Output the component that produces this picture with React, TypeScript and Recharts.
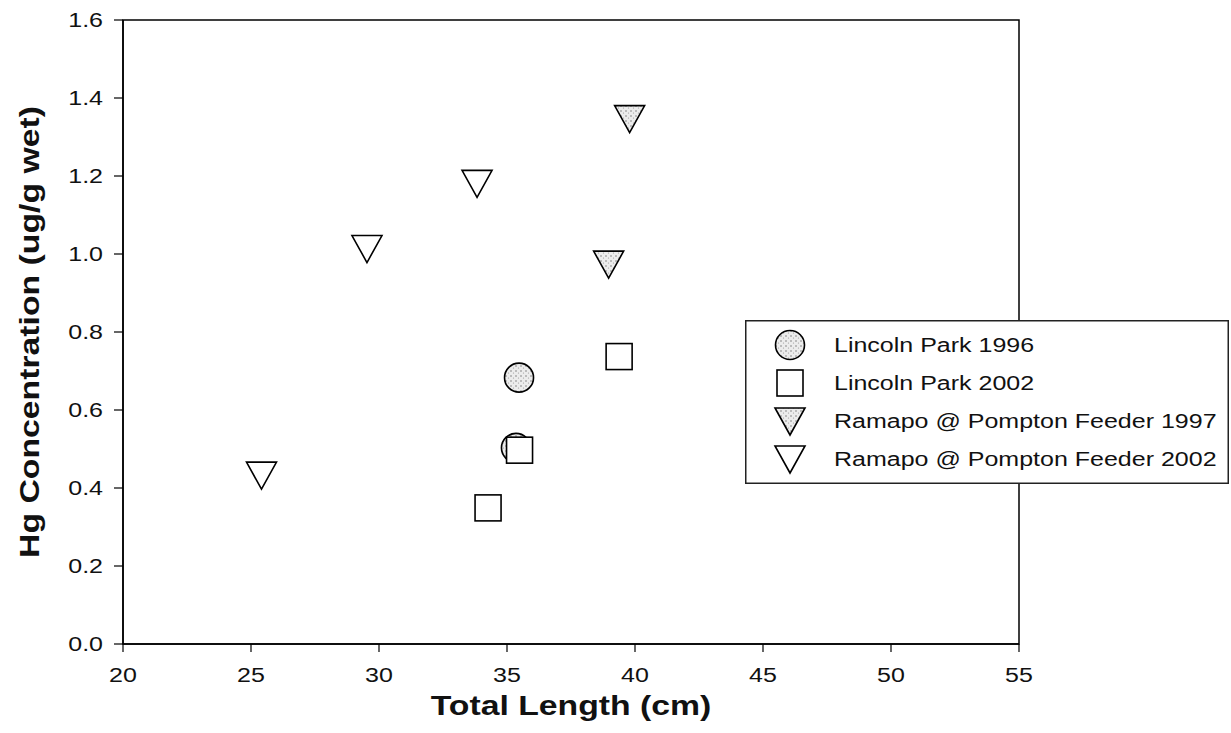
import React from 'react';
import { ScatterChart, Scatter, XAxis, YAxis, ReferenceArea, Legend } from 'recharts';

// Hg concentration vs. total length, by site and sampling year
const lincolnPark1996 = [
  { x: 35.47, y: 0.683 },
  { x: 35.35, y: 0.503 },
];
const lincolnPark2002 = [
  { x: 39.38, y: 0.737 },
  { x: 35.49, y: 0.497 },
  { x: 34.26, y: 0.349 },
];
const ramapo1997 = [
  { x: 39.79, y: 1.347 },
  { x: 38.97, y: 0.974 },
];
const ramapo2002 = [
  { x: 33.83, y: 1.181 },
  { x: 29.53, y: 1.014 },
  { x: 25.41, y: 0.433 },
];

const seriesNames = [
  'Lincoln Park 1996',
  'Lincoln Park 2002',
  'Ramapo @ Pompton Feeder 1997',
  'Ramapo @ Pompton Feeder 2002',
];

const xTicks = [20, 25, 30, 35, 40, 45, 50, 55];
const yTicks = [0, 0.2, 0.4, 0.6, 0.8, 1.0, 1.2, 1.4, 1.6];

const FONT_NAME = 'Liberation Sans';
const FONT = `"${FONT_NAME}", Arial, Helvetica, sans-serif`;
const INK = '#111';
const WIDE = 1.25; // horizontal text widening used throughout the figure

let measureCtx: CanvasRenderingContext2D | null = null;
function textWidth(text: string, size: number, weight = 'normal'): number {
  if (!measureCtx) measureCtx = document.createElement('canvas').getContext('2d');
  if (!measureCtx) return text.length * size * 0.55;
  measureCtx.font = `${weight} ${size}px "${FONT_NAME}", Arial, sans-serif`;
  return measureCtx.measureText(text).width;
}

type WideTextProps = {
  x: number;
  y: number;
  text: string;
  size: number;
  weight?: string;
  anchor?: 'start' | 'middle' | 'end';
  dy?: string;
  transform?: string;
};

const WideText = ({ x, y, text, size, weight = 'normal', anchor = 'start', dy, transform }: WideTextProps) => (
  <text
    x={x}
    y={y}
    dy={dy}
    transform={transform}
    textAnchor={anchor}
    fontFamily={FONT}
    fontSize={size}
    fontWeight={weight}
    fill={INK}
    textLength={textWidth(text, size, weight) * WIDE}
    lengthAdjust="spacingAndGlyphs"
  >
    {text}
  </text>
);

const XTick = (props: any) => (
  <WideText x={props.x} y={props.y} dy="0.71em" text={String(props.payload.value)} size={20} anchor="middle" />
);

const YTick = (props: any) => (
  <WideText
    x={props.x}
    y={props.y}
    dy="0.355em"
    text={Number(props.payload.value).toFixed(1)}
    size={20}
    anchor="end"
  />
);

type Pt = { cx?: number; cy?: number };

const StippleCircle = ({ cx = 0, cy = 0 }: Pt) => (
  <circle cx={cx} cy={cy} r={14.5} fill="url(#stipple)" stroke="#000" strokeWidth={1.6} />
);

const OpenSquare = ({ cx = 0, cy = 0 }: Pt) => (
  <rect x={cx - 13} y={cy - 13} width={26} height={26} fill="#fff" stroke="#000" strokeWidth={1.6} />
);

const downTriangle = (fill: string) => ({ cx = 0, cy = 0 }: Pt) => (
  <path
    d={`M${cx - 15},${cy - 13} L${cx + 15},${cy - 13} L${cx},${cy + 14} Z`}
    fill={fill}
    stroke="#000"
    strokeWidth={1.6}
  />
);

const StippleTriangle = downTriangle('url(#stipple)');
const OpenTriangle = downTriangle('#fff');

const legendShapes = [StippleCircle, OpenSquare, StippleTriangle, OpenTriangle];

const LEGEND_W = 484;
const LEGEND_H = 164;
const ROW_H = 38;
const FIRST_ROW = 25;

const LegendBox = () => (
  <svg width={LEGEND_W} height={LEGEND_H} style={{ display: 'block' }}>
    <rect x={0.75} y={0.75} width={LEGEND_W - 1.5} height={LEGEND_H - 1.5} fill="#fff" stroke="#222" strokeWidth={1.5} />
    {seriesNames.map((name, i) => {
      const Shape = legendShapes[i];
      const cy = FIRST_ROW + i * ROW_H;
      return (
        <g key={name}>
          <Shape cx={45} cy={cy} />
          <WideText x={89} y={cy} dy="0.355em" text={name} size={20} />
        </g>
      );
    })}
  </svg>
);

export default function App() {
  return (
    <div style={{ position: 'absolute', left: 0, top: 0, width: 1231, height: 733, background: '#fff' }}>
      <svg width={0} height={0} style={{ position: 'absolute' }}>
        <defs>
          <pattern id="stipple" patternUnits="userSpaceOnUse" width={5} height={5}>
            <rect width={5} height={5} fill="#ececec" />
            <circle cx={1} cy={1} r={0.7} fill="#666" />
            <circle cx={3.5} cy={3} r={0.6} fill="#999" />
          </pattern>
        </defs>
      </svg>
      <ScatterChart width={1231} height={733} margin={{ top: 20, right: 212, bottom: 0, left: 0 }}>
        <XAxis
          type="number"
          dataKey="x"
          domain={[20, 55]}
          ticks={xTicks}
          interval={0}
          height={89}
          tickSize={8}
          tickMargin={16}
          axisLine={{ stroke: '#000', strokeWidth: 1.5 }}
          tickLine={{ stroke: '#000', strokeWidth: 1.2 }}
          tick={XTick}
          label={{
            content: (p: any) => {
              const vb = p.viewBox || { x: 123, width: 896 };
              return (
                <WideText x={vb.x + vb.width / 2} y={715} text="Total Length (cm)" size={27} weight="bold" anchor="middle" />
              );
            },
          }}
        />
        <YAxis
          type="number"
          dataKey="y"
          domain={[0, 1.6]}
          ticks={yTicks}
          interval={0}
          width={123}
          tickSize={9}
          tickMargin={11}
          axisLine={{ stroke: '#000', strokeWidth: 1.5 }}
          tickLine={{ stroke: '#000', strokeWidth: 1.2 }}
          tick={YTick}
          label={{
            content: (p: any) => {
              const vb = p.viewBox || { y: 20, height: 624 };
              const cy = vb.y + vb.height / 2;
              return (
                <WideText
                  x={39}
                  y={cy}
                  transform={`rotate(-90 39 ${cy})`}
                  text="Hg Concentration (ug/g wet)"
                  size={27}
                  weight="bold"
                  anchor="middle"
                />
              );
            },
          }}
        />
        <ReferenceArea x1={20} x2={55} y1={0} y2={1.6} fill="none" stroke="#000" strokeWidth={1.5} ifOverflow="visible" />
        <Scatter name={seriesNames[0]} data={lincolnPark1996} shape={StippleCircle} isAnimationActive={false} />
        <Scatter name={seriesNames[1]} data={lincolnPark2002} shape={OpenSquare} isAnimationActive={false} />
        <Scatter name={seriesNames[2]} data={ramapo1997} shape={StippleTriangle} isAnimationActive={false} />
        <Scatter name={seriesNames[3]} data={ramapo2002} shape={OpenTriangle} isAnimationActive={false} />
        <Legend
          layout="vertical"
          align="center"
          verticalAlign="middle"
          content={() => <LegendBox />}
          wrapperStyle={{ position: 'absolute', left: 745, top: 320, width: LEGEND_W, height: LEGEND_H }}
        />
      </ScatterChart>
    </div>
  );
}
